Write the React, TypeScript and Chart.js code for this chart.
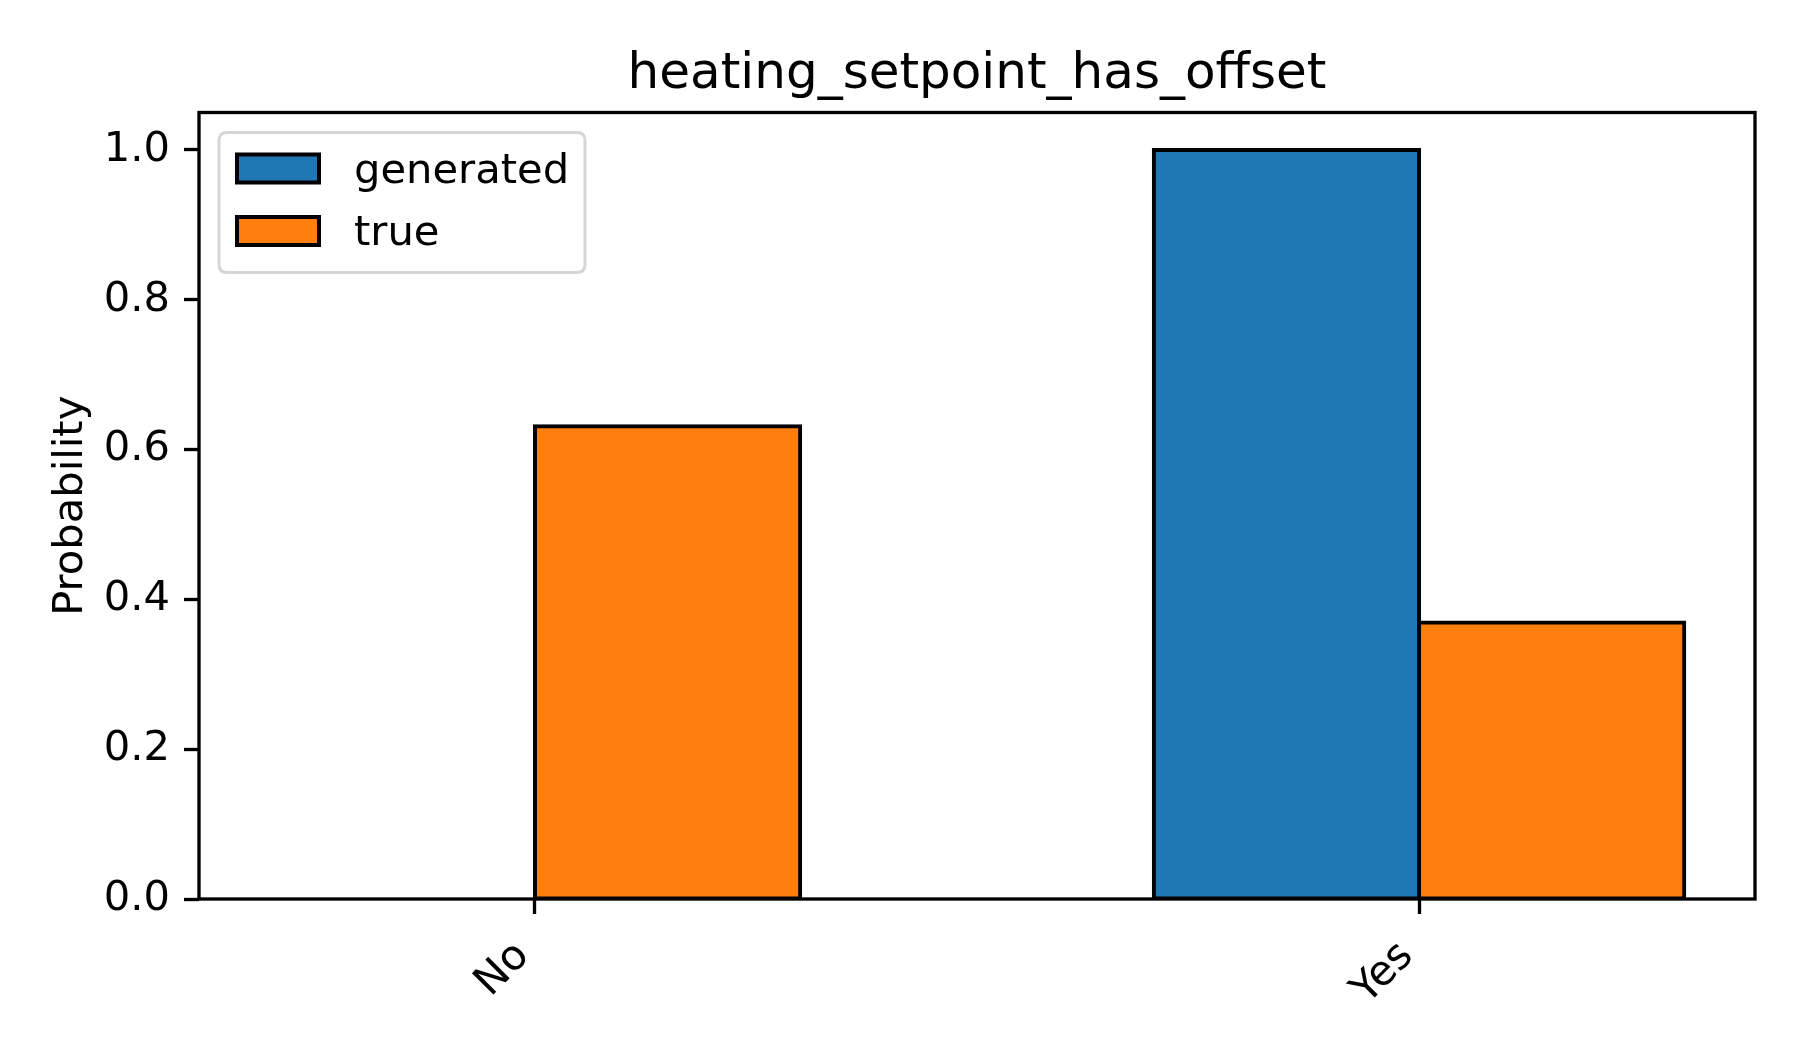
import React, { useEffect, useRef } from "react";
import { Chart, registerables } from "chart.js";

Chart.register(...registerables);

const title = "heating_setpoint_has_offset";
const categories = ["No", "Yes"];
const generatedValues = [0.0, 1.0];
const trueValues = [0.631, 0.369];
const yTickValues = [0, 0.2, 0.4, 0.6, 0.8, 1.0];
const seriesLabels = ["generated", "true"];
const seriesColors = ["#1f77b4", "#ff7f0e"];

const FONT = "'DejaVu Sans', 'Liberation Sans', sans-serif";
const FS = 41.67;
const LW = 3.33;

const frameAndLegend = {
  id: "frameAndLegend",
  afterDatasetsDraw(chart: any) {
    const ctx = chart.ctx;
    const a = chart.chartArea;
    ctx.save();
    ctx.strokeStyle = "#000";
    ctx.lineWidth = LW;
    ctx.strokeRect(a.left, a.top, a.right - a.left, a.bottom - a.top);
    ctx.restore();
  },
  afterDraw(chart: any) {
    const ctx = chart.ctx;
    const a = chart.chartArea;
    const x = a.left + 20;
    const y = a.top + 20;
    const w = 366;
    const h = 140;
    const r = 8;
    ctx.save();
    ctx.beginPath();
    ctx.moveTo(x + r, y);
    ctx.lineTo(x + w - r, y);
    ctx.quadraticCurveTo(x + w, y, x + w, y + r);
    ctx.lineTo(x + w, y + h - r);
    ctx.quadraticCurveTo(x + w, y + h, x + w - r, y + h);
    ctx.lineTo(x + r, y + h);
    ctx.quadraticCurveTo(x, y + h, x, y + h - r);
    ctx.lineTo(x, y + r);
    ctx.quadraticCurveTo(x, y, x + r, y);
    ctx.closePath();
    ctx.fillStyle = "rgba(255,255,255,0.8)";
    ctx.fill();
    ctx.lineWidth = 3;
    ctx.strokeStyle = "#d6d6d6";
    ctx.stroke();
    chart.data.datasets.forEach((ds: any, i: number) => {
      const cy = y + 36 + i * 62.5;
      ctx.fillStyle = ds.backgroundColor;
      ctx.fillRect(x + 18, cy - 14, 82, 28);
      ctx.lineWidth = 4;
      ctx.strokeStyle = "#000";
      ctx.strokeRect(x + 18, cy - 14, 82, 28);
      ctx.fillStyle = "#000";
      ctx.font = `${FS}px ${FONT}`;
      ctx.textBaseline = "middle";
      ctx.textAlign = "left";
      ctx.fillText(ds.label, x + 135, cy + 3.5);
    });
    ctx.restore();
  },
};

export default function App() {
  const ref = useRef<HTMLCanvasElement>(null);
  useEffect(() => {
    if (!ref.current) return;
    Chart.defaults.font.family = FONT;
    Chart.defaults.color = "#000";
    const series = [generatedValues, trueValues];
    const chart = new Chart(ref.current, {
      type: "bar",
      data: {
        datasets: series.map((vals, s) => ({
          label: seriesLabels[s],
          data: vals.map((v, i) => ({ x: i, y: v })),
          backgroundColor: seriesColors[s],
          borderColor: "#000",
          borderWidth: 4,
          inflateAmount: 2,
          borderSkipped: false,
          categoryPercentage: 0.6,
          barPercentage: 1.0,
        })),
      },
      options: {
        animation: false,
        responsive: false,
        devicePixelRatio: 1,
        layout: { padding: { left: 0, right: 45, top: 0, bottom: 0 } },
        plugins: {
          legend: { display: false },
          tooltip: { enabled: false },
          title: {
            display: true,
            text: title,
            fullSize: false,
            color: "#000",
            font: { size: 50, weight: "normal", family: FONT, lineHeight: 1.2 },
            padding: { top: 45, bottom: 7.5 },
          },
        },
        scales: {
          x: {
            type: "linear",
            min: -0.38,
            max: 1.38,
            offset: false,
            grid: {
              offset: false,
              display: true,
              drawOnChartArea: false,
              drawTicks: true,
              tickLength: 15,
              tickWidth: LW,
              tickColor: "#000",
            },
            border: { display: false },
            afterBuildTicks: (scale: any) => {
              scale.ticks = categories.map((_, i) => ({ value: i }));
            },
            afterFit: (scale: any) => {
              scale.height = 1050 - 899;
            },
            ticks: {
              autoSkip: false,
              minRotation: 45,
              maxRotation: 45,
              padding: 18,
              labelOffset: -12,
              color: "#000",
              font: { size: FS, family: FONT },
              callback: (v: any) => categories[Math.round(Number(v))] ?? "",
            },
          },
          y: {
            type: "linear",
            min: 0,
            max: 1.05,
            grid: {
              display: true,
              drawOnChartArea: false,
              drawTicks: true,
              tickLength: 15,
              tickWidth: LW,
              tickColor: "#000",
            },
            border: { display: false },
            afterBuildTicks: (scale: any) => {
              scale.ticks = yTickValues.map((v) => ({ value: v }));
            },
            afterFit: (scale: any) => {
              scale.width = 199;
            },
            ticks: {
              padding: 14,
              color: "#000",
              font: { size: FS, family: FONT },
              callback: (v: any) => Number(v).toFixed(1),
            },
            title: {
              display: true,
              text: "Probability",
              color: "#000",
              font: { size: FS, family: FONT, lineHeight: 1.2 },
              padding: { top: 46, bottom: 0 },
            },
          },
        },
      },
      plugins: [frameAndLegend],
    } as any);
    return () => chart.destroy();
  }, []);
  return (
    <div style={{ position: "absolute", left: 0, top: 0, width: 1800, height: 1050, background: "#fff" }}>
      <canvas ref={ref} width={1800} height={1050} style={{ width: 1800, height: 1050, display: "block" }} />
    </div>
  );
}
